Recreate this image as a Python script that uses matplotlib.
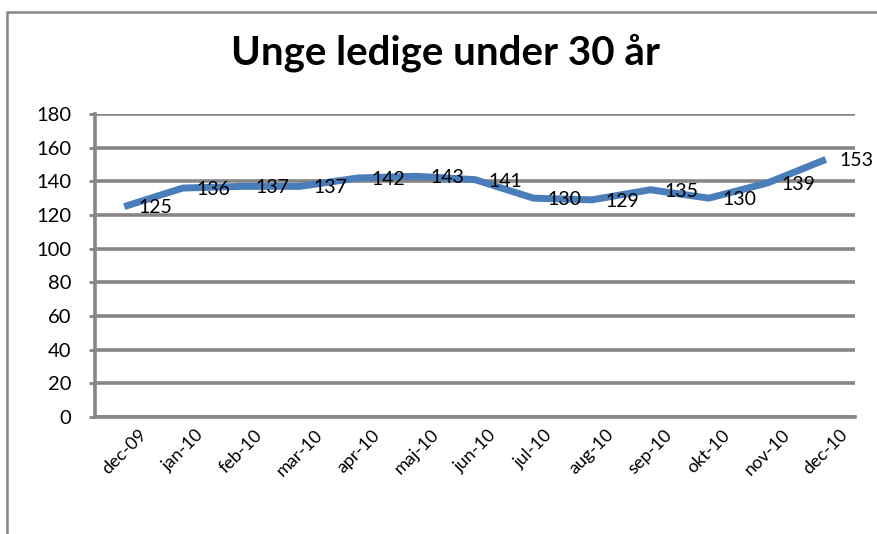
import matplotlib.pyplot as plt
from matplotlib.patches import Rectangle

# data
months = ['dec-09', 'jan-10', 'feb-10', 'mar-10', 'apr-10', 'maj-10', 'jun-10',
          'jul-10', 'aug-10', 'sep-10', 'okt-10', 'nov-10', 'dec-10']
ledige = [125, 136, 137, 137, 142, 143, 141, 130, 129, 135, 130, 139, 153]
y_ticks = [0, 20, 40, 60, 80, 100, 120, 140, 160, 180]

plt.rcParams['font.family'] = ['Lato', 'DejaVu Sans']

W, H = 877, 534
fig = plt.figure(figsize=(W / 100, H / 100), dpi=100)

# chart area border (cropped at right and bottom)
fig.patches.append(Rectangle((7 / W, -0.1), 1.2, 1 - 12 / H + 0.1,
                             transform=fig.transFigure, fill=False,
                             edgecolor='#868686', linewidth=1.8))

ax = fig.add_axes([95 / W, 1 - 417 / H, (855 - 95) / W, (417 - 114) / H])

x = list(range(len(months)))
ax.plot(x, ledige, color='#4A7EBB', linewidth=5, solid_capstyle='butt',
        solid_joinstyle='round', zorder=3)

for xi, v in zip(x, ledige):
    ax.annotate(str(v), (xi, v), xytext=(10, -1), textcoords='offset points',
                ha='left', va='center', fontsize=14, color='black', zorder=4)

ax.set_xlim(-0.5, len(months) - 0.5)
ax.set_ylim(0, 180)
ax.set_yticks(y_ticks)
ax.set_xticks(x)
ax.set_xticklabels(months, rotation=45, ha='center', fontsize=13)
ax.tick_params(axis='y', labelsize=14.5, length=4, width=2, color='#868686', pad=13)
ax.tick_params(axis='x', length=0, pad=7)

ax.grid(axis='y', color='#868686', linewidth=2.6)
ax.set_axisbelow(True)
for s in ['top', 'right']:
    ax.spines[s].set_visible(False)
for s in ['left', 'bottom']:
    ax.spines[s].set_color('#868686')
    ax.spines[s].set_linewidth(2.6)

fig.text(445 / W, 1 - 53 / H, 'Unge ledige under 30 år', ha='center', va='center',
         fontsize=29, fontweight='bold')

fig.savefig('out.png', dpi=100)
